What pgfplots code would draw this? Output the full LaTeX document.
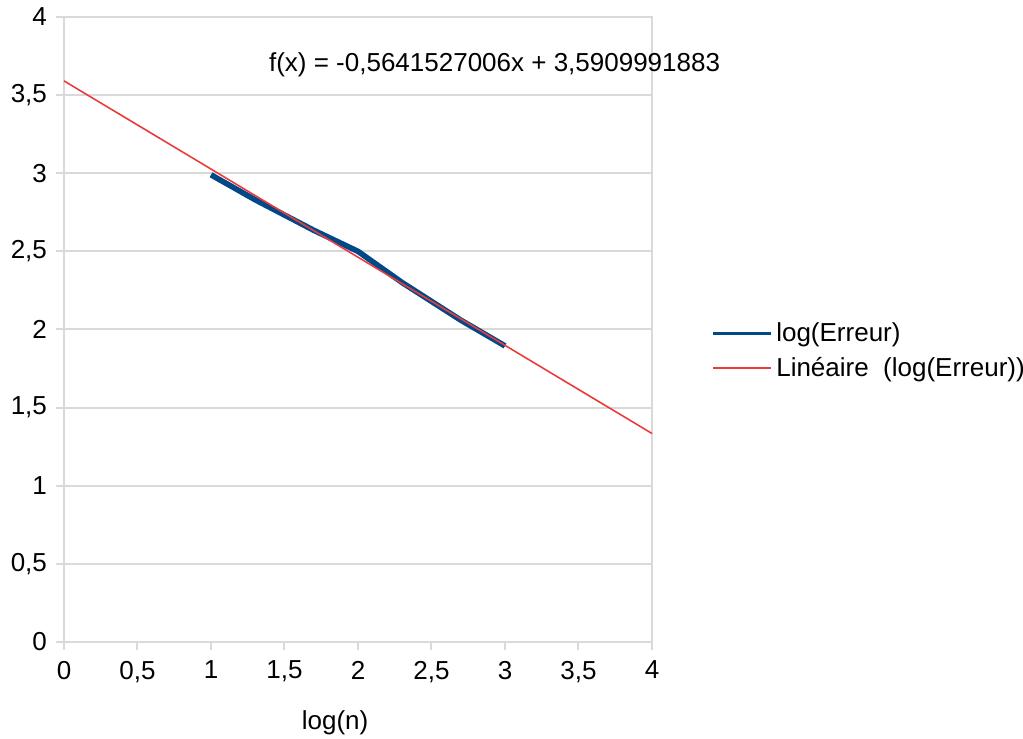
\documentclass[border=0pt]{standalone}
\usepackage{fontspec}
\setmainfont{Liberation Sans}
\usepackage{pgfplots}
\pgfplotsset{compat=1.18}
\definecolor{serieblue}{RGB}{0,72,136}
\definecolor{trendred}{RGB}{235,60,60}
\definecolor{gridgray}{RGB}{217,217,217}

\begin{document}
\begin{tikzpicture}[font=\fontsize{13}{15.6}\selectfont]
\useasboundingbox (-32pt,-48.5pt) rectangle (479.5pt,321pt);
\begin{axis}[
  at={(0,0)}, anchor=south west,
  scale only axis, width=294pt, height=312.5pt,
  xmin=0, xmax=4, ymin=0, ymax=4,
  xtick={0,0.5,1,1.5,2,2.5,3,3.5,4},
  ytick={0,0.5,1,1.5,2,2.5,3,3.5,4},
  tick align=outside, tick pos=left, major tick length=4pt,
  tick style={gridgray, line width=1pt},
  axis line style={gridgray, line width=1pt},
  ymajorgrids, grid style={gridgray, line width=1pt},
  /pgf/number format/use comma,
  /pgf/number format/assume math mode=true,
  xticklabel style={yshift=-2pt},
  yticklabel style={xshift=-1pt},
  xlabel={log(n)},
  xlabel style={at={(axis description cs:0.461,-0.13)}, anchor=center},
  legend style={at={(1.09,0.466)}, anchor=west, draw=none, fill=none,
    row sep=2.5pt, nodes={inner sep=2pt}},
  legend cell align=left,
  clip=false,
]
\addplot[serieblue, line width=2.8pt, line join=round,
  legend image code/.code={\draw[serieblue, line width=1.5pt] (0pt,0pt) -- (29pt,0pt);}]
  coordinates {(1,2.99) (1.30103,2.83) (1.69897,2.635) (2,2.50) (2.30103,2.30) (2.69897,2.06) (3,1.895)};
\addlegendentry{log(Erreur)}
\addplot[trendred, line width=0.8pt,
  legend image code/.code={\draw[trendred, line width=1pt] (0pt,0pt) -- (29pt,0pt);}]
  coordinates {(0,3.5909991883) (4,1.3343883859)};
\addlegendentry{Linéaire\ \ (log(Erreur))}
\node[anchor=west] at (axis cs:1.347,3.693) {f(x) = -0,5641527006x + 3,5909991883};
\end{axis}
\end{tikzpicture}
\end{document}
